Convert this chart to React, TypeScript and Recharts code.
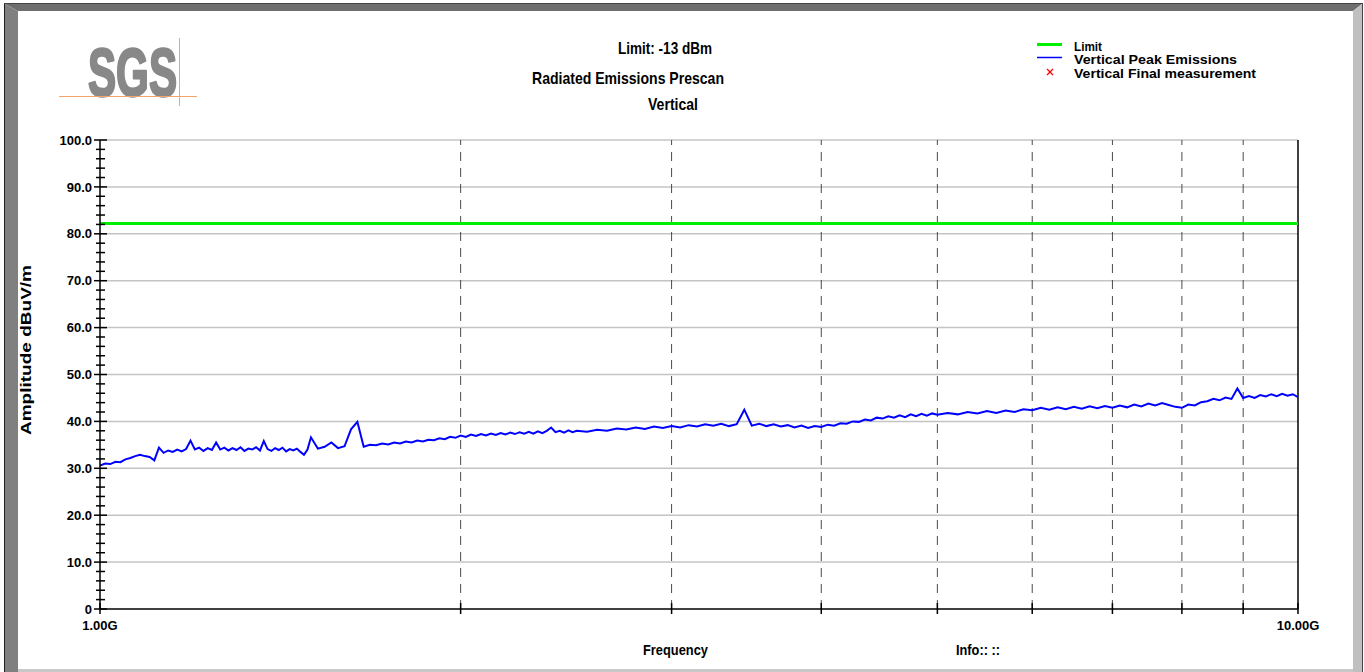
import { LineChart, Line, XAxis, YAxis, ReferenceLine } from 'recharts';

// sweep points (GHz) and peak readings (dBuV/m)
const freqGHz = [
  1.0, 1.01, 1.02, 1.03, 1.04, 1.05, 1.06, 1.07, 1.08, 1.09,
  1.1, 1.11, 1.12, 1.13, 1.14, 1.15, 1.16, 1.17, 1.18, 1.19,
  1.2, 1.21, 1.22, 1.23, 1.24, 1.25, 1.26, 1.27, 1.28, 1.29,
  1.3, 1.31, 1.32, 1.33, 1.34, 1.35, 1.36, 1.37, 1.38, 1.39,
  1.4, 1.41, 1.42, 1.43, 1.44, 1.45, 1.46, 1.47, 1.48, 1.49,
  1.5, 1.52, 1.54, 1.56, 1.58, 1.6, 1.62, 1.64, 1.66, 1.68,
  1.7, 1.72, 1.74, 1.76, 1.78, 1.8, 1.82, 1.84, 1.86, 1.88,
  1.9, 1.92, 1.94, 1.96, 1.98, 2.0, 2.02, 2.04, 2.06, 2.08,
  2.1, 2.12, 2.14, 2.16, 2.18, 2.2, 2.22, 2.24, 2.26, 2.28,
  2.3, 2.32, 2.34, 2.36, 2.38, 2.4, 2.42, 2.44, 2.46, 2.48,
  2.5, 2.55, 2.6, 2.65, 2.7, 2.75, 2.8, 2.85, 2.9, 2.95,
  3.0, 3.05, 3.1, 3.15, 3.2, 3.25, 3.3, 3.35, 3.4, 3.45,
  3.5, 3.55, 3.6, 3.65, 3.7, 3.75, 3.8, 3.85, 3.9, 3.95,
  4.0, 4.05, 4.1, 4.15, 4.2, 4.25, 4.3, 4.35, 4.4, 4.45,
  4.5, 4.55, 4.6, 4.65, 4.7, 4.75, 4.8, 4.85, 4.9, 4.95,
  5.0, 5.1, 5.2, 5.3, 5.4, 5.5, 5.6, 5.7, 5.8, 5.9,
  6.0, 6.1, 6.2, 6.3, 6.4, 6.5, 6.6, 6.7, 6.8, 6.9,
  7.0, 7.1, 7.2, 7.3, 7.4, 7.5, 7.6, 7.7, 7.8, 7.9,
  8.0, 8.1, 8.2, 8.3, 8.4, 8.5, 8.6, 8.7, 8.8, 8.9,
  9.0, 9.1, 9.2, 9.3, 9.4, 9.5, 9.6, 9.7, 9.8, 9.9,
  10.0,
];

const peakDbuv = [
  30.6, 31.0, 30.9, 31.4, 31.3, 31.9, 32.2, 32.6, 32.9, 32.6,
  32.4, 31.7, 34.4, 33.3, 33.8, 33.5, 34.0, 33.6, 34.1, 35.9,
  34.0, 34.4, 33.7, 34.3, 33.9, 35.5, 34.0, 34.4, 33.8, 34.3,
  33.9, 34.5, 33.7, 34.2, 34.0, 34.5, 33.8, 35.8, 34.1, 33.7,
  34.3, 33.9, 34.4, 33.6, 34.1, 33.8, 34.2, 33.5, 32.9, 34.0,
  36.6, 34.2, 34.6, 35.5, 34.3, 34.7, 38.3, 39.9, 34.6, 35.0,
  34.9, 35.3, 35.1, 35.5, 35.3, 35.7, 35.5, 35.9, 35.7, 36.1,
  36.0, 36.4, 36.2, 36.7, 36.5, 37.0, 36.7, 37.2, 36.9, 37.3,
  37.0, 37.4, 37.1, 37.5, 37.2, 37.6, 37.3, 37.7, 37.4, 37.8,
  37.4, 37.9, 37.5, 38.0, 38.7, 37.7, 38.0, 37.6, 38.1, 37.7,
  38.0, 37.8, 38.2, 38.0, 38.5, 38.3, 38.7, 38.4, 38.9, 38.6,
  39.0, 38.7, 39.2, 38.9, 39.4, 39.1, 39.5, 39.0, 39.4, 42.5,
  39.1, 39.5, 39.0, 39.4, 38.9, 39.2, 38.7, 39.1, 38.6, 39.0,
  38.8, 39.3, 39.1, 39.6, 39.5, 40.0, 39.9, 40.4, 40.2, 40.8,
  40.6, 41.1, 40.8, 41.3, 40.9, 41.5, 41.1, 41.6, 41.2, 41.7,
  41.4, 41.8, 41.5, 42.0, 41.7, 42.2, 41.8, 42.3, 42.0, 42.6,
  42.4, 42.9, 42.5, 43.0, 42.6, 43.1, 42.7, 43.2, 42.8, 43.3,
  42.9, 43.4, 43.0, 43.6, 43.2, 43.8, 43.4, 43.9, 43.5, 43.1,
  42.9, 43.6, 43.4, 44.1, 44.3, 44.8, 44.5, 45.1, 44.8, 47.0,
  45.0, 45.4, 45.0, 45.6, 45.3, 45.8, 45.4, 45.9, 45.5, 45.8,
  45.2,
];

const limitDbuv = 82.2;

const yTicks = [
  0, 2, 4, 6, 8, 10, 12, 14, 16, 18, 20, 22, 24, 26, 28, 30, 32, 34, 36, 38,
  40, 42, 44, 46, 48, 50, 52, 54, 56, 58, 60, 62, 64, 66, 68, 70, 72, 74, 76, 78,
  80, 82, 84, 86, 88, 90, 92, 94, 96, 98, 100,
];
const yGridValues = [10, 20, 30, 40, 50, 60, 70, 80, 90, 100];
const xTicks = [1, 2, 3, 4, 5, 6, 7, 8, 9, 10];
const freqGridLines = [2, 3, 4, 5, 6, 7, 8, 9];
const xTickLabels: Record<number, string> = { 1: '1.00G', 10: '10.00G' };

const chartData = freqGHz.map((f, i) => ({ f, amp: peakDbuv[i] }));

const FONT = "'Liberation Sans', Arial, Helvetica, sans-serif";

function YTick({ x, y, payload }: any) {
  const v = payload.value;
  const major = v % 10 === 0;
  return (
    <g>
      <line x1={x - (major ? 6 : 4)} x2={x + (major ? 7 : 5)} y1={y} y2={y} stroke="#000" strokeWidth={1.5} />
      {major && (
        <text x={x - 8} y={y} dy="0.36em" textAnchor="end" fontSize={13} fontWeight="bold" fontFamily={FONT} fill="#000">
          {v === 0 ? '0' : v.toFixed(1)}
        </text>
      )}
    </g>
  );
}

function XTick({ x, y, payload }: any) {
  const label = xTickLabels[payload.value];
  return (
    <g>
      <line x1={x} x2={x} y1={y - 6} y2={y + 5} stroke="#000" strokeWidth={1.5} />
      {label && (
        <text x={x} y={y + 21} textAnchor="middle" fontSize={13} fontWeight="bold" fontFamily={FONT} fill="#000">
          {label}
        </text>
      )}
    </g>
  );
}

function Decor() {
  return (
    <svg width={1364} height={672} style={{ position: 'absolute', left: 0, top: 0 }}>
      <rect x={0} y={0} width={1364} height={672} fill="#fff" />
      {/* bevelled frame */}
      <polygon points="5,4 1362,4 1353,11 18,11" fill="#6e6e6e" />
      <polygon points="5,4 18,11 18,672 5,672" fill="#808080" />
      <polygon points="1362,4 1362,672 1353,672 1353,11" fill="#c0c0c0" />
      <rect x={18} y={669} width={1335} height={3} fill="#c8c8c8" />
      <line x1={4.5} y1={4} x2={4.5} y2={672} stroke="#222" />
      <line x1={4} y1={3.5} x2={1363} y2={3.5} stroke="#444" />
      <line x1={1362.5} y1={4} x2={1362.5} y2={672} stroke="#444" />

      {/* logo */}
      <text
        x={88}
        y={96}
        fontSize={68}
        fontWeight="bold"
        fontFamily={FONT}
        fill="#888888"
        stroke="#888888"
        strokeWidth={2.5}
        strokeLinejoin="round"
        textLength={89}
        lengthAdjust="spacingAndGlyphs"
      >
        SGS
      </text>
      <line x1={59} y1={96.5} x2={197} y2={96.5} stroke="#f3a46c" />
      <line x1={179.5} y1={38} x2={179.5} y2={106} stroke="#f3a46c" />

      {/* titles */}
      <g fontFamily={FONT} fontWeight="bold" fill="#000">
        <text x={618} y={54} fontSize={17} textLength={94} lengthAdjust="spacingAndGlyphs">Limit: -13 dBm</text>
        <text x={532} y={84} fontSize={17} textLength={192} lengthAdjust="spacingAndGlyphs">Radiated Emissions Prescan</text>
        <text x={648} y={110} fontSize={17} textLength={50} lengthAdjust="spacingAndGlyphs">Vertical</text>

        {/* legend */}
        <rect x={1037} y={43} width={25} height={3} fill="#00ee00" />
        <text x={1074} y={51} fontSize={13} textLength={28} lengthAdjust="spacingAndGlyphs">Limit</text>
        <line x1={1037} y1={57.5} x2={1062} y2={57.5} stroke="#0000ff" strokeWidth={1.5} />
        <text x={1074} y={64} fontSize={13} textLength={163} lengthAdjust="spacingAndGlyphs">Vertical Peak Emissions</text>
        <line x1={1047} y1={69} x2={1053} y2={75} stroke="#ff0000" strokeWidth={1.3} />
        <line x1={1053} y1={69} x2={1047} y2={75} stroke="#ff0000" strokeWidth={1.3} />
        <text x={1074} y={78} fontSize={13} textLength={182} lengthAdjust="spacingAndGlyphs">Vertical Final measurement</text>

        {/* axis captions */}
        <text x={643} y={655} fontSize={15} textLength={65} lengthAdjust="spacingAndGlyphs">Frequency</text>
        <text x={956} y={655} fontSize={15} textLength={44} lengthAdjust="spacingAndGlyphs">Info:: ::</text>
        <text
          x={31}
          y={350}
          fontSize={14}
          textAnchor="middle"
          transform="rotate(-90 31 350)"
          textLength={170}
          lengthAdjust="spacingAndGlyphs"
        >
          Amplitude dBuV/m
        </text>
      </g>
    </svg>
  );
}

export default function App() {
  return (
    <div style={{ position: 'absolute', left: 0, top: 0, width: 1364, height: 672, background: '#fff' }}>
      <Decor />
      <div style={{ position: 'absolute', left: 0, top: 0 }}>
        <LineChart width={1364} height={672} data={chartData} margin={{ top: 140, right: 66, bottom: 33, left: 40 }}>
          {yGridValues.map((v) => (
            <ReferenceLine key={'h' + v} y={v} stroke="#c4c4c4" strokeWidth={1.5} />
          ))}
          {freqGridLines.map((f) => (
            <ReferenceLine key={'v' + f} x={f} stroke="#4a4a4a" strokeDasharray="9 7" />
          ))}
          <ReferenceLine x={10} stroke="#000" strokeWidth={1.5} />
          <ReferenceLine y={limitDbuv} stroke="#00ee00" strokeWidth={3} />
          <XAxis
            dataKey="f"
            type="number"
            scale="log"
            domain={[1, 10]}
            ticks={xTicks}
            interval={0}
            tickSize={0}
            tickMargin={0}
            tickLine={false}
            tick={<XTick />}
            axisLine={{ stroke: '#000', strokeWidth: 1.5 }}
            height={30}
            allowDataOverflow
          />
          <YAxis
            type="number"
            domain={[0, 100]}
            ticks={yTicks}
            interval={0}
            tickSize={0}
            tickMargin={0}
            tickLine={false}
            tick={<YTick />}
            axisLine={{ stroke: '#000', strokeWidth: 1.5 }}
            width={60}
          />
          <Line dataKey="amp" type="linear" stroke="#0000ff" strokeWidth={2} dot={false} isAnimationActive={false} />
        </LineChart>
      </div>
    </div>
  );
}
